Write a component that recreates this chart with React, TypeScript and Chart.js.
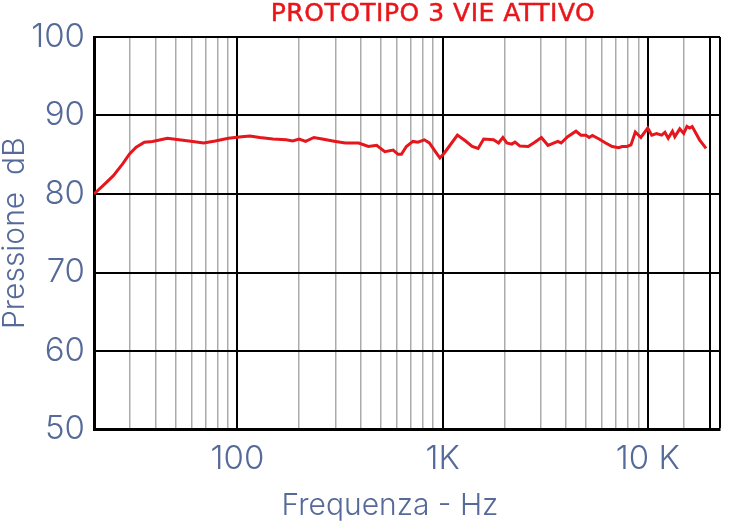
import React, { useEffect, useRef } from 'react';
import { Chart, registerables } from 'chart.js';

Chart.register(...registerables);

const FREQ_HZ = [
  20, 22.2, 24.8, 27.7, 29.8, 32.1, 35.2, 38.6, 45.6, 51.9, 58, 68.5, 78, 90.4,
  104.8, 115, 128.5, 149, 172.6, 186, 200, 215, 236, 259, 301, 336, 390, 435, 477,
  523, 574, 607, 630, 666, 717, 758, 815, 862, 928, 970, 1018, 1076, 1181, 1295,
  1394, 1490, 1586, 1772, 1874, 1967, 2056, 2174, 2254, 2384, 2614, 2815, 3032,
  3264, 3645, 3784, 4072, 4470, 4726, 4994, 5180, 5374, 5788, 6232, 6710, 7226,
  7496, 7924, 8284, 8698, 9256, 10000, 10454, 11050, 11680, 12128, 12580, 13194,
  13548, 14322, 14972, 15530, 16002, 16470, 17884, 19240,
];

const SPL_DB = [
  80.0, 81.1, 82.3, 83.9, 85.1, 85.95, 86.6, 86.7, 87.1, 86.9, 86.75, 86.5, 86.75, 87.1,
  87.3, 87.4, 87.2, 87.0, 86.9, 86.75, 87.0, 86.7, 87.2, 87.0, 86.7, 86.5, 86.5, 86.05, 86.2,
  85.4, 85.6, 85.05, 85.05, 86.05, 86.7, 86.6, 86.9, 86.5, 85.3, 84.6, 85.2, 86.05, 87.5, 86.75,
  86.05, 85.8, 87.0, 86.9, 86.5, 87.2, 86.5, 86.35, 86.6, 86.1, 86.05, 86.6, 87.2,
  86.2, 86.7, 86.5, 87.3, 88.0, 87.5, 87.5, 87.2, 87.45, 87.0, 86.5, 86.05, 85.9,
  86.05, 86.05, 86.25, 87.9, 87.2, 88.4, 87.5, 87.7, 87.5, 87.85, 87.1, 88.0,
  87.3, 88.3, 87.7, 88.6, 88.4, 88.6, 86.9, 85.8,
];

const X_MIN = 20;
const X_MAX = 22500;
const X_GRID = [
  20, 30, 40, 50, 60, 70, 80, 90,
  100, 200, 300, 400, 500, 600, 700, 800, 900,
  1000, 2000, 3000, 4000, 5000, 6000, 7000, 8000, 9000,
  10000, 15000, 20000, 22500,
];
const X_MAJOR = [100, 1000, 10000, 20000, 22500];
const X_LABELS: Record<number, string> = { 100: '100', 1000: '1K', 10000: '10 K' };

const Y_MIN = 50;
const Y_MAX = 100;
const Y_STEP = 5;

const TITLE = 'PROTOTIPO 3 VIE ATTIVO';
const X_TITLE = 'Frequenza - Hz';
const Y_TITLE = 'Pressione  dB';

const LABEL_COLOR = '#566a9a';
const LABEL_FONT = 'Inter, "DejaVu Sans", sans-serif';

export default function App() {
  const ref = useRef<HTMLCanvasElement>(null);

  useEffect(() => {
    if (!ref.current) return;
    const chart = new Chart(ref.current, {
      type: 'line',
      data: {
        datasets: [
          {
            data: FREQ_HZ.map((f, i) => ({ x: f, y: SPL_DB[i] })),
            borderColor: '#e5161c',
            borderWidth: 3,
            pointRadius: 0,
            tension: 0,
            fill: false,
          },
        ],
      },
      options: {
        animation: false,
        responsive: true,
        maintainAspectRatio: false,
        layout: { padding: { top: 37, right: 2, left: 0, bottom: 0 } },
        plugins: {
          legend: { display: false },
          tooltip: { enabled: false },
          title: { display: false },
        },
        scales: {
          x: {
            type: 'logarithmic',
            min: X_MIN,
            max: X_MAX,
            afterBuildTicks: (s: any) => {
              s.ticks = X_GRID.map((v) => ({ value: v }));
            },
            afterFit: (s: any) => {
              s.height = 92.5;
            },
            ticks: {
              autoSkip: false,
              maxRotation: 0,
              minRotation: 0,
              padding: 10,
              color: LABEL_COLOR,
              font: { family: LABEL_FONT, size: 33, weight: '300' },
              callback: (v: any) => X_LABELS[Number(v)] ?? '',
            },
            grid: {
              drawTicks: false,
              color: (c: any) =>
                c.tick && X_MAJOR.includes(c.tick.value) ? '#000000' : '#ababab',
              lineWidth: (c: any) =>
                c.tick && X_MAJOR.includes(c.tick.value) ? 2 : 1.5,
            },
            border: { display: true, color: '#000000', width: 3 },
            title: { display: false },
          },
          y: {
            type: 'linear',
            min: Y_MIN,
            max: Y_MAX,
            afterFit: (s: any) => {
              s.width = 94;
            },
            ticks: {
              stepSize: Y_STEP,
              padding: 9,
              color: LABEL_COLOR,
              font: { family: LABEL_FONT, size: 33, weight: '300' },
              callback: (v: any) => (Number(v) % 10 === 0 ? String(v) : ''),
            },
            grid: {
              drawTicks: false,
              color: '#000000',
              lineWidth: (c: any) => (c.tick && c.tick.value % 10 === 0 ? 2 : 1.2),
            },
            border: { display: true, color: '#000000', width: 3 },
            title: {
              display: true,
              text: Y_TITLE,
              color: LABEL_COLOR,
              font: { family: LABEL_FONT, size: 30, weight: '300', lineHeight: 1 },
              padding: { top: 0, bottom: 0 },
            },
          },
        },
      },
    } as any);
    return () => chart.destroy();
  }, []);

  return (
    <div
      style={{
        position: 'absolute',
        left: 0,
        top: 0,
        width: 730,
        height: 522,
        overflow: 'hidden',
        background: '#ffffff',
      }}
    >
      <canvas ref={ref} />
      <div
        style={{
          position: 'absolute',
          left: 433,
          top: 0,
          transform: 'translateX(-50%)',
          whiteSpace: 'nowrap',
          font: '25px "DejaVu Sans", sans-serif',
          lineHeight: '25px',
          letterSpacing: '0.5px',
          color: '#e8161b',
          WebkitTextStroke: '0.5px #e8161b',
        }}
      >
        {TITLE}
      </div>
      <div
        style={{
          position: 'absolute',
          left: 390,
          top: 489,
          transform: 'translateX(-50%)',
          whiteSpace: 'nowrap',
          font: '300 30px Inter, "DejaVu Sans", sans-serif',
          lineHeight: '30px',
          color: LABEL_COLOR,
        }}
      >
        {X_TITLE}
      </div>
    </div>
  );
}
